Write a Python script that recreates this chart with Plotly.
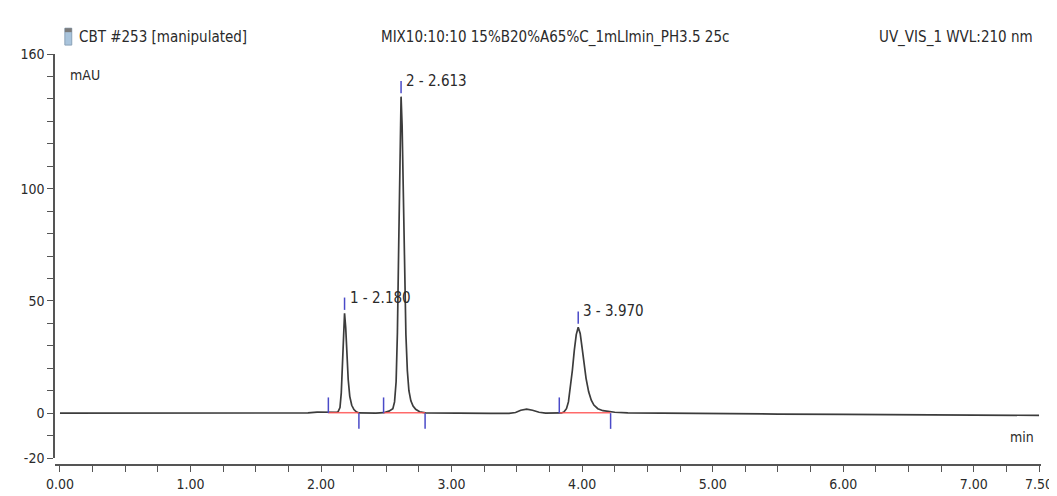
import plotly.graph_objects as go

# ---- data ----
retention_time = [
    0.00, 0.50, 1.00, 1.50, 1.90, 1.97, 2.03, 2.08, 2.12, 2.13,
    2.145, 2.155, 2.163, 2.171, 2.180, 2.189, 2.198, 2.208, 2.220, 2.235,
    2.252, 2.27, 2.29, 2.35, 2.42, 2.48, 2.52, 2.55, 2.563, 2.575,
    2.585, 2.595, 2.604, 2.613, 2.621, 2.630, 2.640, 2.650, 2.661, 2.673,
    2.688, 2.705, 2.725, 2.755, 2.80, 2.90, 3.10, 3.30, 3.44, 3.49,
    3.53, 3.575, 3.62, 3.67, 3.72, 3.80, 3.84, 3.86, 3.88, 3.895,
    3.91, 3.925, 3.94, 3.955, 3.970, 3.985, 4.00, 4.015, 4.03, 4.05,
    4.07, 4.09, 4.12, 4.16, 4.20, 4.25, 4.35, 4.50, 5.00, 5.50,
    6.00, 6.50, 7.00, 7.50,
]
signal_mau = [
    0.0, 0.0, 0.0, 0.0, 0.1, 0.5, 0.4, 0.2, 0.4, 0.6,
    2.5, 9.0, 20.0, 35.0, 44.5, 38.0, 26.0, 15.0, 7.5, 3.5,
    1.6, 0.6, 0.1, 0.0, 0.0, 0.2, 0.9, 2.0, 5.0, 14.0,
    36.0, 75.0, 118.0, 141.0, 128.0, 95.0, 60.0, 35.0, 19.0, 10.0,
    5.5, 3.2, 1.7, 0.6, 0.1, 0.0, 0.0, -0.1, -0.1, 0.3,
    1.3, 1.8, 1.3, 0.4, 0.0, 0.0, 0.1, 0.5, 2.0, 5.0,
    11.0, 19.0, 28.0, 35.0, 38.3, 35.5, 29.0, 22.0, 15.5, 9.5,
    5.8, 3.6, 2.0, 1.1, 0.7, 0.4, 0.1, 0.0, -0.2, -0.4,
    -0.5, -0.6, -0.8, -1.0,
]

peak_labels = ["1 - 2.180", "2 - 2.613", "3 - 3.970"]
peak_rt = [2.180, 2.613, 3.970]
peak_height = [44.5, 141.0, 38.3]
peak_start = [2.056, 2.479, 3.825]
peak_end = [2.290, 2.797, 4.218]

x_tick_vals = [0, 1, 2, 3, 4, 5, 6, 7, 7.5]
x_tick_text = ["0.00", "1.00", "2.00", "3.00", "4.00", "5.00", "6.00", "7.00", "7.50"]
y_tick_vals = [-20, 0, 50, 100, 160]
y_tick_text = ["-20", "0", "50", "100", "160"]

header_left = "CBT #253 [manipulated]"
header_mid = "MIX10:10:10 15%B20%A65%C_1mLImin_PH3.5 25c"
header_right = "UV_VIS_1 WVL:210 nm"
y_unit = "mAU"
x_unit = "min"

# ---- layout geometry ----
W, H = 1057, 496
ML, MR, MT, MB = 43, 14, 46, 36
PW = W - ML - MR
PH = H - MT - MB


def fx(px):
    return (px - ML) / PW


def fy(py):
    return (H - MB - py) / PH


FONT = "Liberation Sans Narrow, Arial Narrow, DejaVu Sans Condensed, Liberation Sans, sans-serif"
TXT = "#2a2a2a"
AX = "#555555"
BLUE = "#4a4ac8"
RED = "rgba(255,80,80,0.85)"

fig = go.Figure()

fig.add_trace(go.Scatter(
    x=retention_time, y=signal_mau, mode="lines",
    line=dict(color="#3c3c3c", width=1.7), hoverinfo="skip",
))

# integration baselines (red)
bx, by = [], []
for s, e in zip(peak_start, peak_end):
    bx += [s, e, None]
    by += [0.2, 0.2, None]
fig.add_trace(go.Scatter(x=bx, y=by, mode="lines",
                         line=dict(color=RED, width=1.5), hoverinfo="skip"))

# blue delimiter ticks
tx, ty = [], []
for s, e, r, h in zip(peak_start, peak_end, peak_rt, peak_height):
    tx += [s, s, None, e, e, None, r, r, None]
    ty += [0, 7, None, 0, -7, None, h + 1.5, h + 7, None]
fig.add_trace(go.Scatter(x=tx, y=ty, mode="lines",
                         line=dict(color=BLUE, width=1.5), hoverinfo="skip"))

annotations = []
for lab, r, h in zip(peak_labels, peak_rt, peak_height):
    annotations.append(dict(
        x=r, y=h + 7, xref="x", yref="y", text=lab, showarrow=False,
        xanchor="left", yanchor="middle", xshift=3,
        font=dict(family=FONT, size=15, color=TXT),
    ))

annotations += [
    dict(x=fx(65), y=fy(29), xref="paper", yref="paper", text=header_left,
         showarrow=False, xanchor="left", yanchor="middle",
         font=dict(family=FONT, size=15, color=TXT)),
    dict(x=fx(372), y=fy(29), xref="paper", yref="paper", text=header_mid,
         showarrow=False, xanchor="left", yanchor="middle",
         font=dict(family=FONT, size=15, color=TXT)),
    dict(x=fx(1037), y=fy(29), xref="paper", yref="paper", text=header_right,
         showarrow=False, xanchor="right", yanchor="middle",
         font=dict(family=FONT, size=15, color=TXT)),
    dict(x=fx(56), y=fy(67), xref="paper", yref="paper", text=y_unit,
         showarrow=False, xanchor="left", yanchor="middle",
         font=dict(family=FONT, size=14, color=TXT)),
    dict(x=fx(1010), y=fy(432), xref="paper", yref="paper", text=x_unit,
         showarrow=False, xanchor="left", yanchor="middle",
         font=dict(family=FONT, size=14, color=TXT)),
]

shapes = [
    dict(type="rect", xref="paper", yref="paper",
         x0=fx(53), x1=fx(60), y0=fy(37), y1=fy(20),
         fillcolor="#a9c4dc", line=dict(color="#8aa2b8", width=1)),
    dict(type="rect", xref="paper", yref="paper",
         x0=fx(53), x1=fx(60), y0=fy(24), y1=fy(20),
         fillcolor="#7b7b7b", line=dict(width=0)),
]

minor_x = [i * 0.25 for i in range(31)]
minor_y = [v for v in range(-20, 161, 10)]

fig.update_layout(
    width=W, height=H,
    margin=dict(l=ML, r=MR, t=MT, b=MB),
    paper_bgcolor="white", plot_bgcolor="white",
    showlegend=False,
    annotations=annotations,
    shapes=shapes,
    xaxis=dict(
        range=[-0.038, 7.515], anchor="free", position=0,
        showline=True, linecolor=AX, linewidth=1.5,
        ticks="outside", ticklen=6, tickwidth=1.2, tickcolor=AX,
        tickmode="array", tickvals=x_tick_vals, ticktext=x_tick_text,
        minor=dict(tickmode="array", tickvals=minor_x, ticks="outside",
                   ticklen=6, tickwidth=1.2, tickcolor=AX),
        showgrid=False, zeroline=False,
        tickfont=dict(family=FONT, size=14, color=TXT),
    ),
    yaxis=dict(
        range=[-20, 160], domain=[(7) / PH, 1],
        showline=True, linecolor=AX, linewidth=1.5,
        ticks="outside", ticklen=6, tickwidth=1.2, tickcolor=AX,
        tickmode="array", tickvals=y_tick_vals, ticktext=y_tick_text,
        minor=dict(tickmode="array", tickvals=minor_y, ticks="outside",
                   ticklen=6, tickwidth=1.2, tickcolor=AX),
        showgrid=False, zeroline=False,
        tickfont=dict(family=FONT, size=14, color=TXT),
    ),
)

fig.write_html("out.html")
